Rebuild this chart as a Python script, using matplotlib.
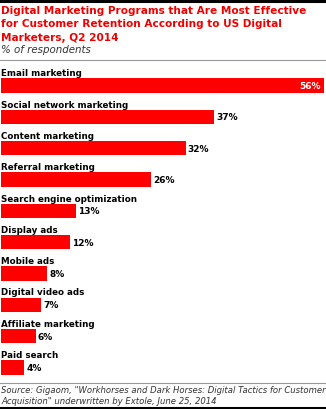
import matplotlib.pyplot as plt
from matplotlib.lines import Line2D

categories = ["Email marketing", "Social network marketing", "Content marketing",
              "Referral marketing", "Search engine optimization", "Display ads",
              "Mobile ads", "Digital video ads", "Affiliate marketing", "Paid search"]
values = [56, 37, 32, 26, 13, 12, 8, 7, 6, 4]

title = ("Digital Marketing Programs that Are Most Effective\n"
         "for Customer Retention According to US Digital\n"
         "Marketers, Q2 2014")
subtitle = "% of respondents"
source = ('Source: Gigaom, "Workhorses and Dark Horses: Digital Tactics for Customer\n'
          'Acquisition" underwritten by Extole, June 25, 2014')

W, H = 326, 410
fig = plt.figure(figsize=(W / 100, H / 100), dpi=100)
fig.patch.set_facecolor("white")

def fy(px):
    return 1 - px / H

# header / footer rules
fig.add_artist(Line2D([0, 1], [fy(1.5), fy(1.5)], color="black", lw=2.2))
fig.add_artist(Line2D([0, 1], [fy(61), fy(61)], color="#999999", lw=0.8))
fig.add_artist(Line2D([0, 1], [fy(384), fy(384)], color="#999999", lw=0.8))
fig.add_artist(Line2D([0, 1], [fy(409), fy(409)], color="black", lw=2.2))

fig.text(1 / W, fy(5.5), title, color="#ee0000", fontsize=7.6, fontweight="bold",
         va="top", ha="left", linespacing=1.48)
fig.text(1 / W, fy(45), subtitle, color="#333333", fontsize=7.4, style="italic",
         va="top", ha="left")
fig.text(1 / W, fy(386), source, color="#333333", fontsize=6.15, style="italic",
         va="top", ha="left", linespacing=1.25)

# bar area
top_px, bot_px = 71, 384
ax = fig.add_axes([1 / W, 1 - bot_px / H, 323 / W, (bot_px - top_px) / H])
n = len(categories)
ypos = list(range(n))
ax.barh(ypos, values, height=0.46, color="#ff0000", edgecolor="none")
ax.set_xlim(0, max(values))
ax.set_ylim(n - 0.5, -0.5)
ax.axis("off")

for i, (cat, v) in enumerate(zip(categories, values)):
    ax.text(0, i - 0.33, cat, fontsize=6.35, fontweight="bold", color="black",
            ha="left", va="baseline")
    if v == max(values):
        ax.annotate(f"{v}%", (v, i), xytext=(-2, 0), textcoords="offset points",
                    ha="right", va="center", fontsize=6.5, fontweight="bold",
                    color="white")
    else:
        ax.annotate(f"{v}%", (v, i), xytext=(1.5, 0), textcoords="offset points",
                    ha="left", va="center", fontsize=6.5, fontweight="bold",
                    color="black")

fig.savefig("out.png", dpi=100)
